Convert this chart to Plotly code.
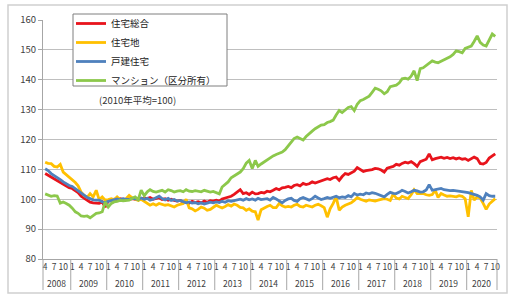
import plotly.graph_objects as go
import pandas as pd

# ---- data ----
months = pd.date_range("2008-04-01", "2020-10-01", freq="MS")
series_names = ["住宅総合", "住宅地", "戸建住宅", "マンション（区分所有）"]
note_text = "(2010年平均=100)"
month_tick_labels = [1, 4, 7, 10]
years = list(range(2008, 2021))

total = [
    108.6, 108.0, 107.4, 106.8, 106.2, 105.8, 105.0, 104.4, 103.9,
    103.6, 102.8, 102.2, 101.0, 100.3, 99.7, 99.0, 98.8, 98.6, 98.6, 99.1, 97.4,
    99.4, 99.8, 100.0, 99.8, 100.2, 100.0, 99.9, 100.1, 100.2, 100.0, 100.3, 100.1,
    100.4, 100.2, 100.6, 100.0, 100.3, 100.5, 99.9, 100.2, 99.7, 100.0, 99.6, 99.4,
    99.6, 99.0, 99.2, 98.7, 99.3, 98.9, 99.2, 98.8, 99.4, 99.0, 99.5, 99.4,
    99.7, 99.4, 100.1, 100.4, 100.7, 101.0, 101.6, 102.4, 103.2, 101.9, 102.2, 101.6,
    102.4, 101.8, 101.9, 102.3, 102.1, 102.7, 102.5, 103.0, 103.6, 103.2, 103.8, 104.0,
    104.3, 103.9, 104.6, 104.9, 104.5, 105.3, 104.9, 105.2, 105.8, 105.4, 105.8, 106.3,
    106.5, 106.9, 106.6, 107.2, 107.4, 106.3, 107.6, 108.6, 108.3, 108.9, 109.4, 110.6,
    109.8, 109.3, 109.6, 109.7, 109.9, 110.3, 110.2, 109.8, 109.1, 110.4, 110.8, 111.0,
    111.7, 111.4, 112.0, 112.4, 112.1, 112.6, 111.9, 111.0, 112.6, 113.0, 113.4, 115.2,
    113.2, 113.6, 113.9, 114.1, 113.7, 114.0, 113.6, 113.9, 113.5, 113.8, 113.4, 113.6,
    113.0, 113.5, 114.1, 113.6, 112.0, 111.8, 112.3, 113.8, 114.6, 115.2,
]

land = [
    112.4, 112.0, 111.9, 111.0, 110.8, 111.7, 109.1, 108.2, 107.4,
    106.6, 105.6, 104.5, 102.4, 101.3, 100.6, 101.9, 100.8, 103.0, 99.9, 100.8, 99.7,
    99.9, 100.2, 99.8, 100.8, 99.9, 99.7, 100.2, 101.3, 100.5, 100.0, 99.6, 100.0,
    99.2, 98.6, 98.0, 98.5, 98.0, 98.6, 98.3, 98.0, 98.2, 97.8, 97.4, 98.0,
    98.2, 98.6, 100.0, 97.1, 96.8, 96.1, 96.6, 97.4, 97.0, 96.3, 96.6, 97.4,
    98.0, 97.5, 97.1, 97.6, 98.2, 97.7, 98.4, 98.0, 97.3, 97.1, 96.3, 96.8,
    96.0, 95.8, 93.0, 96.5, 97.1, 97.6, 98.0, 97.2, 97.2, 98.6, 97.8, 97.4,
    97.6, 97.4, 98.0, 98.3, 97.6, 97.4, 98.0, 97.6, 97.4, 98.0, 98.3, 97.8,
    97.2, 94.0, 96.8, 98.6, 100.8, 96.3, 97.4, 98.0, 98.4, 98.8, 99.6, 100.6,
    100.0, 99.6, 99.3, 99.8, 99.7, 99.4, 99.7, 99.9, 100.2, 100.0, 99.6, 101.7,
    100.4, 100.1, 101.0, 100.6, 100.2, 101.5, 103.2, 101.9, 102.0, 101.9, 101.5, 101.3,
    101.6, 103.0, 100.6, 101.9, 101.4, 101.0, 101.1, 100.9, 100.8, 101.2, 101.0, 100.2,
    94.1, 103.0, 99.7, 100.8, 100.4, 98.6, 96.6, 98.4, 99.3, 100.2,
]

house = [
    110.2, 109.6, 108.6, 108.0, 107.2, 106.6, 105.8, 105.2, 104.6,
    104.3, 103.5, 102.8, 102.1, 101.3, 100.6, 100.2, 99.8, 99.7, 99.7, 99.1, 98.9,
    99.3, 99.6, 99.9, 100.1, 99.8, 100.2, 100.0, 99.9, 100.3, 100.1, 100.0, 100.4,
    100.0, 100.3, 99.7, 100.0, 100.4, 101.0, 100.2, 99.8, 100.3, 99.6, 99.9, 99.4,
    99.6, 99.2, 98.8, 99.1, 98.7, 98.9, 98.5, 98.8, 98.4, 98.7, 99.0, 98.8,
    99.1, 98.9, 99.3, 99.0, 99.5, 99.3, 99.6, 99.8, 100.0, 99.7, 100.2, 99.8,
    100.1, 99.7, 100.3, 99.9, 100.0, 100.2, 99.7, 100.6, 100.1, 99.4, 98.8, 99.6,
    100.1, 100.3, 99.6, 99.3, 100.2, 100.6, 100.1, 99.7, 100.2, 101.0, 100.4, 99.9,
    100.2, 100.6, 100.3, 100.7, 101.0, 100.5, 100.8, 100.6, 101.2, 100.8, 101.9, 101.4,
    101.7, 101.5, 102.1, 101.8, 102.2, 102.0, 101.6, 101.0, 100.8, 101.6, 102.3, 102.0,
    101.9, 102.4, 103.0, 102.6, 102.1, 102.5, 103.0, 102.8, 102.4, 102.5, 103.1, 104.9,
    103.0, 103.2, 103.5, 103.6, 103.2, 103.0, 102.9, 103.0, 102.9, 102.7, 102.5, 102.4,
    102.2, 101.9, 101.7, 101.3, 100.8, 99.7, 101.9, 101.2, 101.0, 101.0,
]

condo = [
    101.8, 101.3, 101.0, 101.2, 101.1, 98.7, 99.1, 98.6, 98.0,
    97.0, 95.8, 95.3, 94.4, 94.3, 94.4, 93.8, 94.7, 95.3, 95.4, 95.8, 99.1,
    97.4, 98.6, 99.1, 99.3, 99.6, 99.5, 99.7, 99.7, 100.3, 100.8, 99.9, 103.0,
    101.2, 102.5, 103.2, 102.6, 102.4, 102.8, 103.0, 102.4, 103.2, 102.9, 102.4, 102.7,
    102.9, 102.5, 103.2, 102.7, 102.6, 102.9, 102.7, 102.5, 103.0, 102.8, 102.4, 102.6,
    102.1, 101.8, 104.1, 105.0, 105.8, 107.2, 107.8, 108.3, 109.1, 110.2, 112.1, 113.0,
    110.3, 113.0, 111.0, 111.8, 112.5, 113.2, 113.8, 114.5, 115.0, 115.5, 115.8, 116.6,
    118.0, 119.0, 120.3, 120.8, 120.2, 119.8, 121.0, 122.0, 122.8, 123.6, 124.2, 124.8,
    125.0, 125.7, 126.0, 126.5, 128.2, 129.7, 129.0, 130.0, 130.7, 131.0, 129.7, 131.8,
    133.0, 133.4, 134.0, 134.5, 135.8, 137.2, 136.8, 136.3, 135.3, 136.0, 137.7, 138.0,
    138.2, 139.0, 140.3, 140.5, 140.2, 141.2, 143.0, 139.7, 143.7, 144.0, 144.8, 145.5,
    146.3, 145.9, 145.7, 146.2, 146.7, 147.0, 147.7, 148.5, 149.7, 149.4, 149.0, 150.5,
    150.8, 151.3, 152.8, 154.7, 152.5, 151.6, 151.3, 153.5, 155.3, 154.5,
]

colors = ["#E8141C", "#FFC000", "#4F81BD", "#8CC84B"]

# ---- figure ----
FONT = "Noto Sans CJK JP"
fig = go.Figure()
for name, vals, col in zip(series_names, [total, land, house, condo], colors):
    fig.add_trace(go.Scatter(x=months, y=vals, name=name, mode="lines",
                             line=dict(color=col, width=2.8)))

x_start = pd.Timestamp("2008-03-10")
x_end = pd.Timestamp("2020-10-19")

tickvals = [m for m in months if m.month in month_tick_labels]
ticktext = [str(m.month) for m in tickvals]

shapes = []
annotations = []
grid_col = "#a6a6a6"
bottom_y = (259 - 290) / 239
for yr in years[1:]:
    sep = pd.Timestamp(f"{yr-1}-12-16 12:00")
    shapes.append(dict(type="line", xref="x", yref="paper", x0=sep, x1=sep,
                       y0=0, y1=bottom_y, line=dict(color=grid_col, width=1)))
for xp in (0, 1):
    shapes.append(dict(type="line", xref="paper", yref="paper", x0=xp, x1=xp,
                       y0=0, y1=bottom_y, line=dict(color=grid_col, width=1)))

for yr in years:
    left = max(pd.Timestamp(f"{yr-1}-12-16 12:00"), x_start)
    right = min(pd.Timestamp(f"{yr}-12-16 12:00"), x_end)
    mid = left + (right - left) / 2
    annotations.append(dict(x=mid, y=(259 - 283) / 239, xref="x", yref="paper",
                            text=str(yr), showarrow=False, yanchor="middle",
                            font=dict(family=FONT, size=8.5, color="#404040")))

annotations.append(dict(x=(137 - 43) / 454, y=(259 - 100) / 239, xref="paper", yref="paper",
                        text=note_text, showarrow=False, xanchor="center", yanchor="middle",
                        font=dict(family=FONT, size=9.5, color="#333333")))

# outer frame
shapes.append(dict(type="rect", xref="paper", yref="paper",
                   x0=(8 - 43) / 454, x1=(507 - 43) / 454,
                   y0=(259 - 293) / 239, y1=(259 - 5) / 239,
                   line=dict(color="#d0d0d0", width=1.5), layer="below"))

# legend box (white panel with border behind the legend entries)
shapes.append(dict(type="rect", xref="paper", yref="paper",
                   x0=(73 - 43) / 454, x1=(227 - 43) / 454,
                   y0=(259 - 86) / 239, y1=(259 - 14) / 239,
                   fillcolor="white", line=dict(color="#7f7f7f", width=1), layer="above"))

fig.update_layout(
    width=520, height=295,
    margin=dict(l=43, r=23, t=20, b=36, autoexpand=False),
    paper_bgcolor="white", plot_bgcolor="white",
    font=dict(family=FONT, size=9.5, color="#333333"),
    showlegend=True,
    legend=dict(x=(71 - 43) / 454, y=(259 - 9) / 239, xanchor="left", yanchor="top",
                bgcolor="rgba(0,0,0,0)", borderwidth=0,
                font=dict(family=FONT, size=9.5, color="#222222")),
    xaxis=dict(type="date", range=[x_start, x_end], tickvals=tickvals, ticktext=ticktext,
               tickangle=0, showgrid=False, showline=True, linecolor=grid_col,
               ticks="", zeroline=False,
               tickfont=dict(family=FONT, size=8.5, color="#404040")),
    yaxis=dict(range=[80, 160], dtick=10, showgrid=True, gridcolor="#bfbfbf", gridwidth=1,
               showline=True, linecolor=grid_col, ticks="outside", ticklen=4,
               tickcolor=grid_col, zeroline=False,
               tickfont=dict(family=FONT, size=9.5, color="#404040")),
    shapes=shapes, annotations=annotations,
)

fig.write_html("out.html")
